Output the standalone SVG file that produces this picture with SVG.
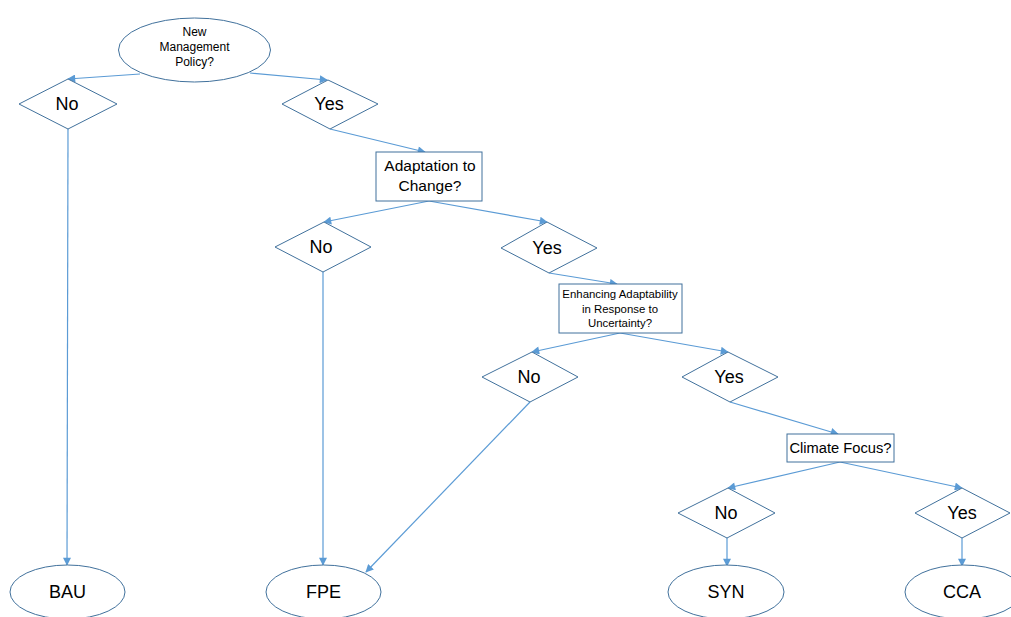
<svg xmlns="http://www.w3.org/2000/svg" width="1011" height="617" viewBox="0 0 1011 617">
<style>
.shape{fill:#fff;stroke:#41719C;stroke-width:1}
.conn{fill:none;stroke:#5B9BD5;stroke-width:1.2;marker-end:url(#arr)}
text{font-family:"Liberation Sans",Arial,sans-serif;fill:#000;text-anchor:middle;dominant-baseline:central}
.big{font-size:18px}
.mid{font-size:15.5px}
.cf{font-size:14.7px}
.sm{font-size:12px}
.xs{font-size:11.4px}
</style>
<defs>
<marker id="arr" viewBox="0 0 10 10" refX="9" refY="5" markerWidth="9" markerHeight="8" markerUnits="userSpaceOnUse" orient="auto">
<path d="M0,0 L10,5 L0,10 z" fill="#5B9BD5"/>
</marker>
</defs>
<rect width="1011" height="617" fill="#fff"/>
<g id="connectors">
<line class="conn" x1="140" y1="74" x2="68" y2="79"/>
<line class="conn" x1="250" y1="73" x2="327" y2="80"/>
<line class="conn" x1="68" y1="129" x2="67" y2="565"/>
<line class="conn" x1="330" y1="129" x2="425" y2="152"/>
<line class="conn" x1="429" y1="201" x2="324" y2="222"/>
<line class="conn" x1="429" y1="201" x2="547" y2="222"/>
<line class="conn" x1="323" y1="272" x2="323" y2="565"/>
<line class="conn" x1="549" y1="273" x2="617" y2="284"/>
<line class="conn" x1="620" y1="333" x2="532" y2="352"/>
<line class="conn" x1="620" y1="333" x2="728" y2="352"/>
<line class="conn" x1="530" y1="402" x2="366" y2="572"/>
<line class="conn" x1="730" y1="402" x2="838" y2="434"/>
<line class="conn" x1="840" y1="462" x2="728" y2="488"/>
<line class="conn" x1="840" y1="462" x2="962" y2="488"/>
<line class="conn" x1="727" y1="538" x2="727" y2="566"/>
<line class="conn" x1="962" y1="538" x2="962" y2="566"/>
</g>
<g id="n-root">
<ellipse class="shape" cx="194.5" cy="50" rx="76" ry="32"/>
<text class="sm" x="194.5" y="32">New</text>
<text class="sm" x="194.5" y="47">Management</text>
<text class="sm" x="194.5" y="62">Policy?</text>
</g>
<g id="n-no1">
<polygon class="shape" points="19,104 68,79 117,104 68,129"/>
<text class="big" x="67" y="104">No</text>
</g>
<g id="n-yes1">
<polygon class="shape" points="282,104 328,80 378,104 330,129"/>
<text class="big" x="329" y="104">Yes</text>
</g>
<g id="n-adapt">
<rect class="shape" x="376" y="152" width="106" height="49"/>
<text class="mid" x="430" y="165">Adaptation to</text>
<text class="mid" x="430" y="185">Change?</text>
</g>
<g id="n-no2">
<polygon class="shape" points="275,247 324,222 371,247 323,272"/>
<text class="big" x="321" y="247">No</text>
</g>
<g id="n-yes2">
<polygon class="shape" points="501,248 547,222 597,248 549,273"/>
<text class="big" x="547" y="248">Yes</text>
</g>
<g id="n-enh">
<rect class="shape" x="559" y="284" width="123" height="49"/>
<text class="xs" x="620" y="294">Enhancing Adaptability</text>
<text class="xs" x="620" y="309">in Response to</text>
<text class="xs" x="620" y="323">Uncertainty?</text>
</g>
<g id="n-no3">
<polygon class="shape" points="482,377 532,352 578,377 530,402"/>
<text class="big" x="529" y="377">No</text>
</g>
<g id="n-yes3">
<polygon class="shape" points="682,377 728,352 778,377 730,402"/>
<text class="big" x="729" y="377">Yes</text>
</g>
<g id="n-climate">
<rect class="shape" x="787" y="434" width="107" height="28"/>
<text class="cf" x="840.5" y="448">Climate Focus?</text>
</g>
<g id="n-no4">
<polygon class="shape" points="678,513 728,488 775,513 727,538"/>
<text class="big" x="726" y="513">No</text>
</g>
<g id="n-yes4">
<polygon class="shape" points="915,513 962,488 1010,513 962,538"/>
<text class="big" x="962" y="513">Yes</text>
</g>
<g id="n-bau">
<ellipse class="shape" cx="67.5" cy="592" rx="57.5" ry="27"/>
<text class="big" x="67.5" y="592">BAU</text>
</g>
<g id="n-fpe">
<ellipse class="shape" cx="323.5" cy="592" rx="57.5" ry="27"/>
<text class="big" x="323.5" y="592">FPE</text>
</g>
<g id="n-syn">
<ellipse class="shape" cx="726" cy="592" rx="58" ry="27"/>
<text class="big" x="726" y="592">SYN</text>
</g>
<g id="n-cca">
<ellipse class="shape" cx="963" cy="592" rx="58" ry="27"/>
<text class="big" x="962" y="592">CCA</text>
</g>
</svg>
